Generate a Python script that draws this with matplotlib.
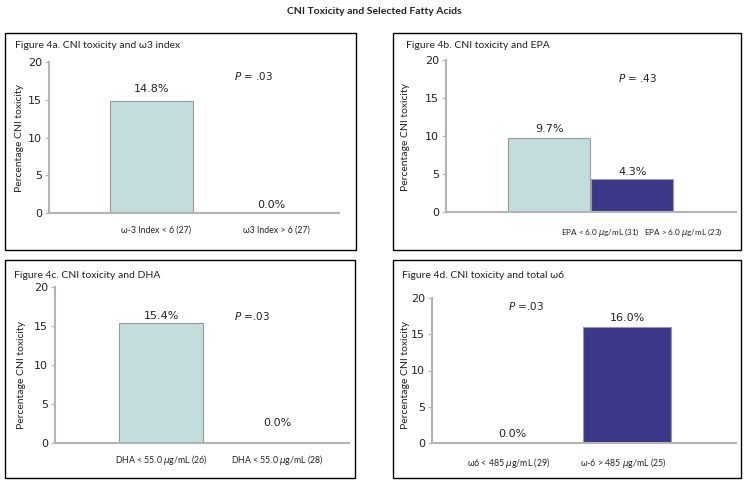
import matplotlib
matplotlib.use("Agg")
import matplotlib.pyplot as plt
from matplotlib.patches import Rectangle

# data
panel_titles = ["Figure 4a. CNI toxicity and \u03c93 index",
                "Figure 4b. CNI toxicity and EPA",
                "Figure 4c. CNI toxicity and DHA",
                "Figure 4d. CNI toxicity and total \u03c96"]
cats_a = ["\u03c9-3 Index < 6 (27)", "\u03c93 Index > 6 (27)"]
cats_b = [r"EPA < 6.0 $\mu$g/mL (31)", r"EPA > 6.0 $\mu$g/mL (23)"]
cats_c = [r"DHA < 55.0 $\mu$g/mL (26)", r"DHA < 55.0 $\mu$g/mL (28)"]
cats_d = ["\u03c96 < 485 $\\mu$g/mL (29)", "\u03c9-6 > 485 $\\mu$g/mL (25)"]
vals_a = [14.8, 0.0]
vals_b = [9.7, 4.3]
vals_c = [15.4, 0.0]
vals_d = [0.0, 16.0]
p_texts = [r"$P$ = .03", r"$P$ = .43", r"$P$ =.03", r"$P$ =.03"]
yticks = [0, 5, 10, 15, 20]

LIGHT = "#c3dcdc"
DARK = "#3c3789"
GREY = "#b4b4b4"
TXT = "#222222"
LBL = ["Lato", "DejaVu Sans"]
NUM = ["DejaVu Sans"]

W, H = 748, 483
fig = plt.figure(figsize=(W / 100, H / 100), dpi=100)


def fx(px):
    return px / W


def fy(py):
    return 1 - py / H


fig.text(fx(374), fy(12), "CNI Toxicity and Selected Fatty Acids", ha="center", va="center",
         fontsize=7.5, fontweight="bold", family=LBL, color=TXT)

# panel frames (x0, y0, x1, y1) in pixels
frames = [(5, 33, 356, 250), (393, 33, 741, 250), (5, 260, 355, 478), (393, 260, 741, 478)]
for x0, y0, x1, y1 in frames:
    fig.patches.append(Rectangle((fx(x0), fy(y1)), fx(x1 - x0), (y1 - y0) / H,
                                 transform=fig.transFigure, fill=False, ec="black", lw=1.0))

# axes boxes: left, right, y of 0, y of 20 (pixels)
boxes = [(49, 339, 213, 62), (446, 736, 212, 60), (55, 349, 443, 287), (432, 736, 443, 298)]
xlims = [(-0.854, 1.56), (-1.24, 2.25), (-0.914, 1.62), (-0.696, 1.948)]
widths = [0.69, 0.99, 0.72, 0.765]
tick_shift = [0.04, 0.62, 0.0, -0.03]
colors = [[LIGHT, LIGHT], [LIGHT, DARK], [LIGHT, LIGHT], [LIGHT, DARK]]
val_off = [[5, 2], [3, 2], [1, 11], [3, 3]]
p_pos = [(0.85, 18.1), (1.06, 17.6), (0.78, 16.3), (0.12, 18.9)]
title_pos = [(15, 46), (406, 46), (14, 275), (402, 275)]
ylab_pos = [(20, 138), (406, 137), (22, 375), (406, 375)]
lab_pad = [9, 10, 7, 9]
lab_size = [6.3, 5.9, 6.3, 6.3]

cats = [cats_a, cats_b, cats_c, cats_d]
vals = [vals_a, vals_b, vals_c, vals_d]

for i in range(4):
    l, r, y0, y20 = boxes[i]
    ax = fig.add_axes([fx(l), fy(y0), (r - l) / W, (y0 - y20) / H])
    xs = list(range(len(vals[i])))
    ax.bar(xs, vals[i], width=widths[i], color=colors[i], edgecolor="#9a9a9a", linewidth=0.8, zorder=2)
    ax.set_xlim(*xlims[i])
    ax.set_ylim(0, 20)
    ax.set_yticks(yticks)
    ax.set_yticklabels([str(t) for t in yticks], family=NUM, fontsize=8, color=TXT)
    ax.set_xticks([x + tick_shift[i] for x in xs])
    ax.set_xticklabels(cats[i], family=LBL, fontsize=lab_size[i], color=TXT)
    ax.tick_params(axis="x", length=0, pad=lab_pad[i])
    ax.tick_params(axis="y", length=3, width=0.8, color=GREY, pad=2)
    for s in ["top", "right"]:
        ax.spines[s].set_visible(False)
    for s in ["left", "bottom"]:
        ax.spines[s].set_color(GREY)
        ax.spines[s].set_linewidth(1.5)
    ax.patch.set_alpha(0)
    for x, v, off in zip(xs, vals[i], val_off[i]):
        ax.annotate(f"{v:.1f}%", (x, v), xytext=(0, off), textcoords="offset points",
                    ha="center", va="bottom", fontsize=8, family=NUM, color=TXT)
    ax.text(p_pos[i][0], p_pos[i][1], p_texts[i], ha="center", va="center",
            fontsize=7.5, family=NUM, color=TXT)
    fig.text(fx(title_pos[i][0]), fy(title_pos[i][1]), panel_titles[i], ha="left", va="center",
             fontsize=7.5, family=LBL, color=TXT)
    fig.text(fx(ylab_pos[i][0]), fy(ylab_pos[i][1]), "Percentage CNI toxicity", rotation=90,
             ha="center", va="center", fontsize=7.5, family=LBL, color=TXT)

fig.savefig("out.png", dpi=100)
